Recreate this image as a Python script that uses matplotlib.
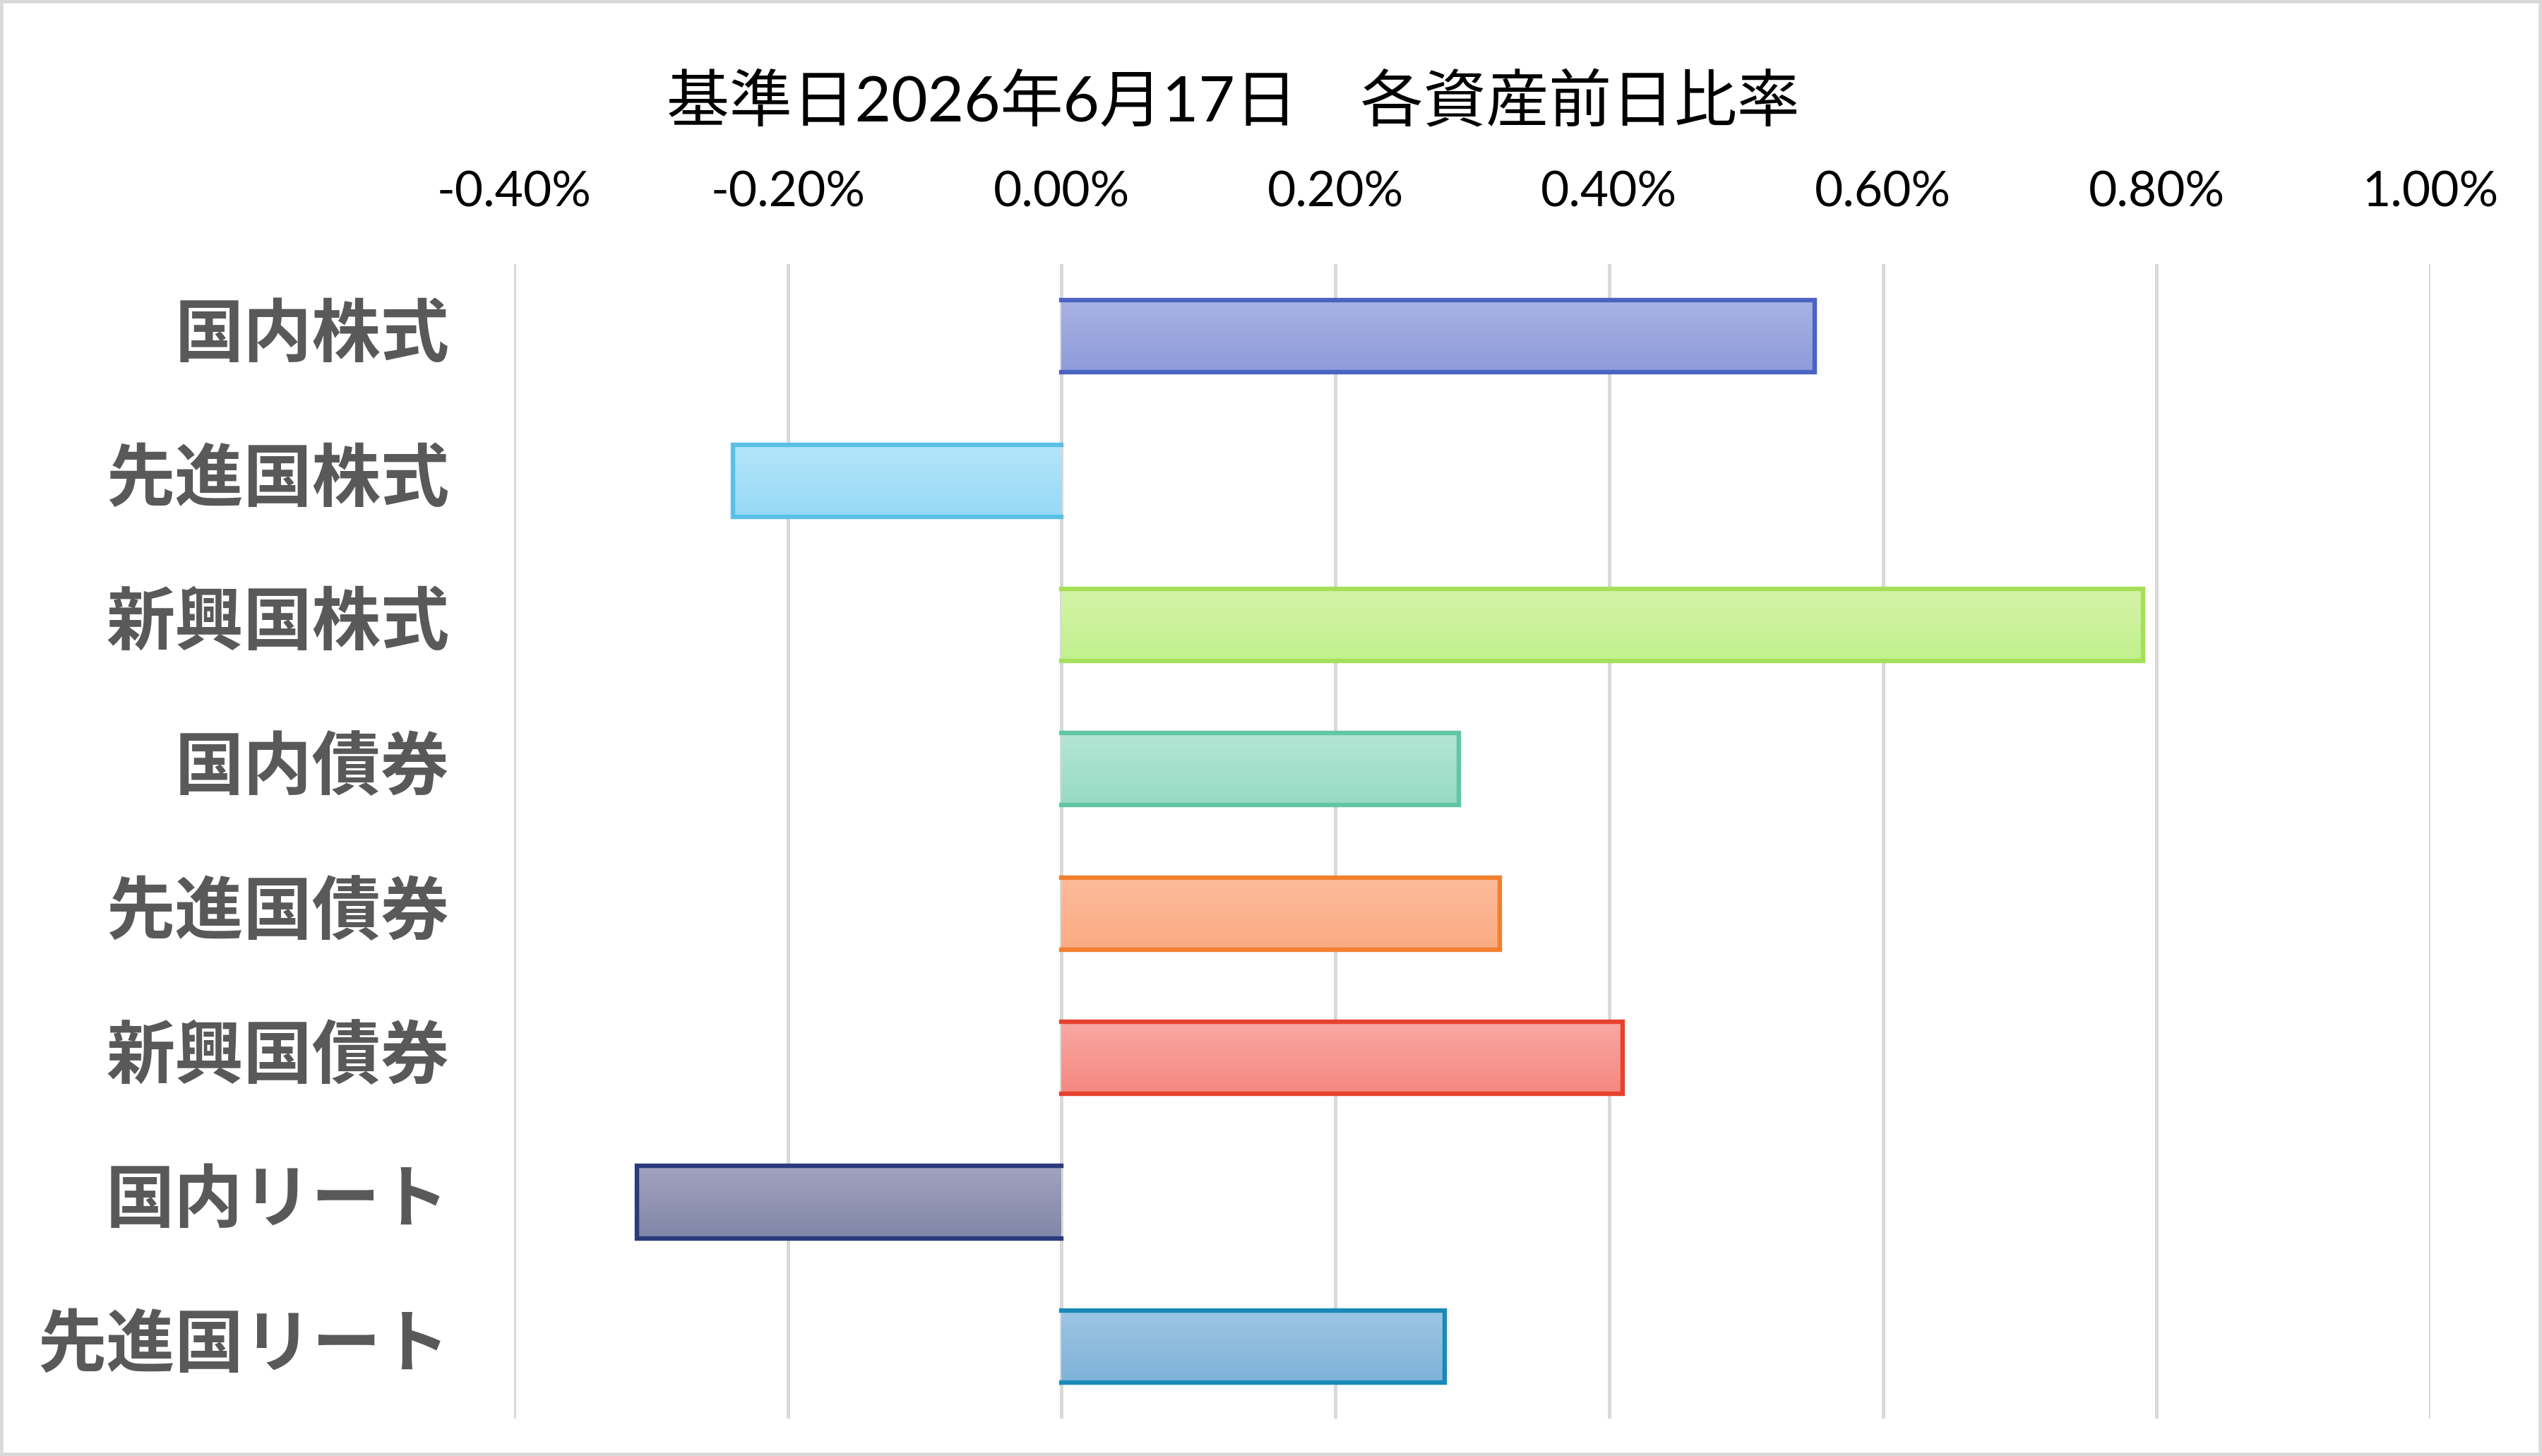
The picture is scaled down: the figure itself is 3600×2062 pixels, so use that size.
import matplotlib
matplotlib.use("Agg")
import matplotlib.pyplot as plt
import matplotlib.transforms as mtransforms
import numpy as np
from matplotlib.colors import to_rgb
from matplotlib.patches import Rectangle

# data (前日比, %)
categories = ['国内株式', '先進国株式', '新興国株式', '国内債券',
              '先進国債券', '新興国債券', '国内リート', '先進国リート']
values = [0.55, -0.24, 0.79, 0.29, 0.32, 0.41, -0.31, 0.28]
xticks = [-0.40, -0.20, 0.00, 0.20, 0.40, 0.60, 0.80, 1.00]
title = '基準日2026年6月17日　各資産前日比率'

# colours: gradient top, gradient bottom, outline
top_colors = ['#a9b2e3', '#b4e5f9', '#d4f4a8', '#b4e5d6',
              '#fdbc9c', '#f9a8a3', '#a1a3be', '#9dc6e4']
bottom_colors = ['#8f9cdb', '#97d9f7', '#c2f08e', '#97dbc4',
                 '#fbaa82', '#f58880', '#8185a8', '#7fb2d8']
edge_colors = ['#4a63c2', '#5bc0e8', '#a5e05a', '#62c6a6',
               '#f27f2e', '#e6422f', '#2a3b7c', '#1a8ab8']

bar_h = 0.5

fig = plt.figure(figsize=(18, 10.31), dpi=200)
ax = fig.add_axes([0.2022, 0.0257, 0.7539, 0.7929])

y = np.arange(len(categories))
for i, v in enumerate(values):
    c0 = np.array(to_rgb(top_colors[i]))
    c1 = np.array(to_rgb(bottom_colors[i]))
    t = np.linspace(0, 1, 64)[:, None]
    grad = (c0 * (1 - t) + c1 * t)[:, None, :]
    top, bot = y[i] - bar_h / 2, y[i] + bar_h / 2
    ax.imshow(grad, extent=[0, v, bot, top], aspect='auto',
              interpolation='bilinear', zorder=2)
    # outline on three sides (not on the zero side)
    ax.plot([0, v, v, 0], [top, top, bot, bot], color=edge_colors[i],
            lw=2.3, solid_joinstyle='miter', zorder=3)

ax.set_xlim(xticks[0], xticks[-1])
ax.set_ylim(len(categories) - 0.5, -0.5)

for xt in xticks:
    ax.axvline(xt, color='#d9d9d9', lw=1.8, zorder=1)

ax.xaxis.tick_top()
ax.set_xticks(xticks)
ax.set_xticklabels(['{:.2f}%'.format(t) for t in xticks],
                   family=['Lato', 'DejaVu Sans'], fontsize=25, color='black')
ax.tick_params(axis='x', length=0, pad=25)

ax.set_yticks(y)
ax.set_yticklabels(categories, family='Noto Sans CJK JP', fontweight='bold',
                   fontsize=35, color='#595959')
ax.tick_params(axis='y', length=0, pad=33)
shift = mtransforms.ScaledTranslation(0, 4 / 72, fig.dpi_scale_trans)
for lbl in ax.get_yticklabels():
    lbl.set_transform(lbl.get_transform() + shift)

for s in ax.spines.values():
    s.set_visible(False)

fig.text(0.485, 0.929, title, ha='center', va='center', fontsize=32,
         family=['Lato', 'Noto Sans CJK JP'], color='black')

# light frame around the chart
fig.patches.append(Rectangle((0.0006, 0.001), 0.9988, 0.998, transform=fig.transFigure,
                             fill=False, edgecolor='#d9d9d9', lw=2.0))

fig.savefig('out.png', dpi=200, facecolor='white')
